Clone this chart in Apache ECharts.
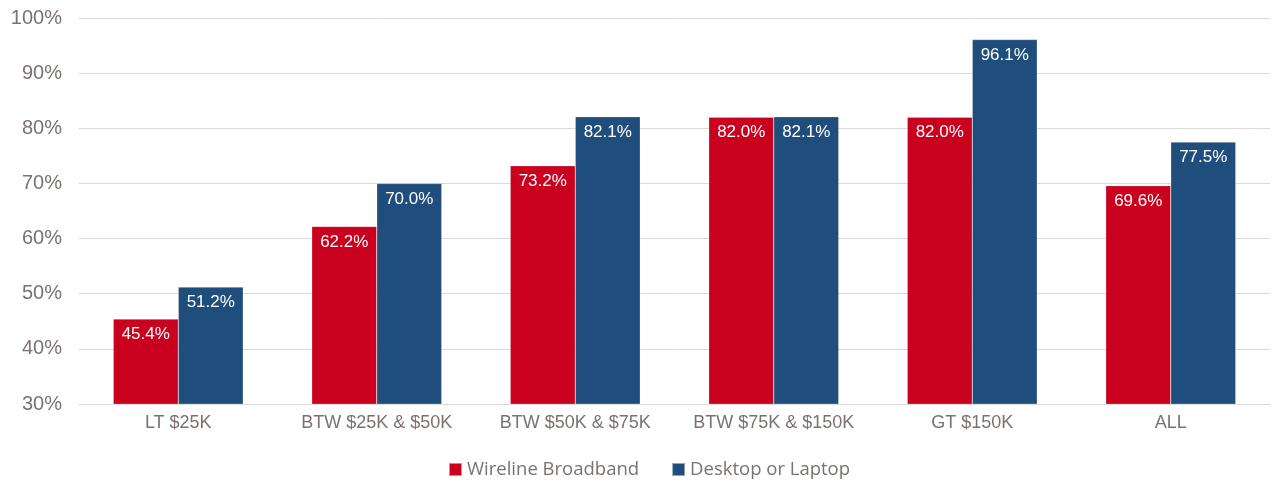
<!DOCTYPE html>
<html>
<head>
<meta charset="utf-8">
<script src="https://cdn.jsdelivr.net/npm/echarts@6/dist/echarts.min.js"></script>
<style>html,body{margin:0;padding:0;background:#fff}#c{width:1274px;height:485px}</style>
</head>
<body>
<div id="c"></div>
<script>
const categories = ['LT $25K', 'BTW $25K & $50K', 'BTW $50K & $75K', 'BTW $75K & $150K', 'GT $150K', 'ALL'];
const wireline = [45.4, 62.2, 73.2, 82.0, 82.0, 69.6];
const desktop = [51.2, 70.0, 82.1, 82.1, 96.1, 77.5];
const seriesNames = ['Wireline Broadband', 'Desktop or Laptop'];
const yTicks = {min: 30, max: 100, interval: 10};

const textColor = '#7d7070';
const chart = echarts.init(document.getElementById('c'), null, {renderer: 'canvas'});
const labelOpt = {
  show: true, position: 'insideTop', distance: 7, color: '#fff',
  fontFamily: 'Liberation Sans, Arial, sans-serif', fontSize: 17,
  formatter: p => p.value.toFixed(1) + '%'
};
chart.setOption({
  animation: false,
  grid: {left: 79, right: 4, top: 18, bottom: 81, containLabel: false},
  legend: {
    bottom: 1, left: 443, itemWidth: 13, itemHeight: 13, itemGap: 32,
    icon: 'rect',
    textStyle: {color: textColor, fontSize: 18.5, fontFamily: 'Open Sans, sans-serif'},
    data: seriesNames
  },
  xAxis: {
    type: 'category', data: categories,
    axisLine: {lineStyle: {color: '#d9d9d9', width: 1}},
    axisTick: {show: false},
    axisLabel: {interval: 0, color: textColor, fontSize: 18, fontFamily: 'Liberation Sans, Arial, sans-serif', margin: 10}
  },
  yAxis: {
    type: 'value', min: yTicks.min, max: yTicks.max, interval: yTicks.interval,
    axisLine: {show: false}, axisTick: {show: false},
    splitLine: {lineStyle: {color: '#d9d9d9', width: 1}},
    axisLabel: {color: textColor, fontSize: 20, fontFamily: 'Liberation Sans, Arial, sans-serif', margin: 17, formatter: v => v + '%'}
  },
  series: [
    {name: seriesNames[0], type: 'bar', data: wireline, barGap: '0%', barCategoryGap: '34.5%',
     itemStyle: {color: '#c9001e', borderColor: 'rgba(255,255,255,0.5)', borderWidth: 0.5}, label: labelOpt},
    {name: seriesNames[1], type: 'bar', data: desktop, barGap: '0%', barCategoryGap: '34.5%',
     itemStyle: {color: '#1f4e7c', borderColor: 'rgba(255,255,255,0.5)', borderWidth: 0.5}, label: labelOpt}
  ]
});
</script>
</body>
</html>
